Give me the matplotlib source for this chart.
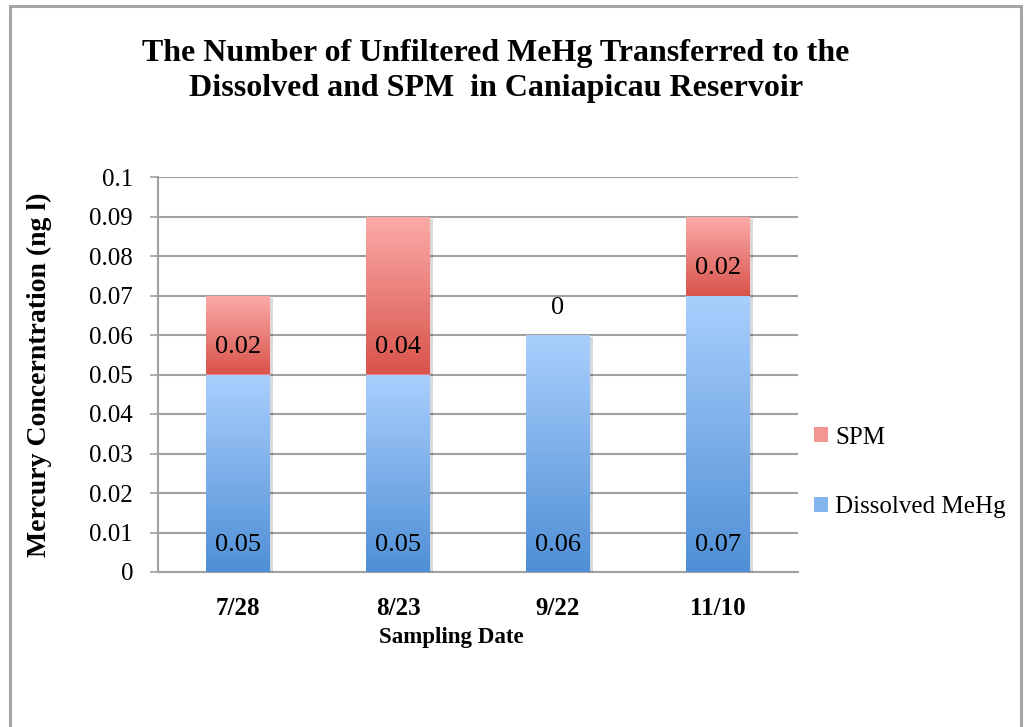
import numpy as np
import matplotlib
matplotlib.use("Agg")
import matplotlib.pyplot as plt
from matplotlib.colors import LinearSegmentedColormap
from matplotlib.patches import Rectangle, Patch
import matplotlib.patheffects as pe

plt.rcParams['font.family'] = ['Liberation Serif', 'DejaVu Serif']

dates = ['7/28', '8/23', '9/22', '11/10']
dissolved = [0.05, 0.05, 0.06, 0.07]
spm = [0.02, 0.04, 0.0, 0.02]
dissolved_labels = ['0.05', '0.05', '0.06', '0.07']
spm_labels = ['0.02', '0.04', '0', '0.02']

red_cmap = LinearSegmentedColormap.from_list('red', ['#d9534b', '#fbaba9'])
blue_cmap = LinearSegmentedColormap.from_list('blue', ['#4f8fd6', '#aacffd'])

fig = plt.figure(figsize=(10.28, 7.27), dpi=100)
ax = fig.add_axes([158 / 1028, 155 / 727, 640 / 1028, 395 / 727])

# chart frame
fig.patches.append(Rectangle((10 / 1028, -0.05), 1011 / 1028, 1 - 6 / 727 + 0.05,
                             transform=fig.transFigure, fill=False,
                             edgecolor='#a6a6a6', lw=2.2, zorder=0))

x = np.arange(len(dates))
shadow = [pe.SimplePatchShadow(offset=(2, -1.5), alpha=0.18), pe.Normal()]
b1 = ax.bar(x, dissolved, width=0.4, color='#7fb1ea', zorder=3, path_effects=shadow)
b2 = ax.bar(x, spm, width=0.4, bottom=dissolved, color='#ee8480', zorder=3, path_effects=shadow)

grad = np.linspace(0, 1, 256).reshape(-1, 1)
for bars, cmap in [(b1, blue_cmap), (b2, red_cmap)]:
    for p in bars:
        if p.get_height() <= 0:
            continue
        x0, y0 = p.get_x(), p.get_y()
        im = ax.imshow(grad, cmap=cmap, origin='lower', aspect='auto',
                       extent=[x0, x0 + p.get_width(), y0, y0 + p.get_height()],
                       zorder=4)
        im.set_clip_path(p)

# labels sit near the base of each segment
for i in range(len(dates)):
    ax.annotate(dissolved_labels[i], (x[i], 0), xytext=(0, 19.5), textcoords='offset points',
                ha='center', va='center', fontsize=19, zorder=6)
    ax.annotate(spm_labels[i], (x[i], dissolved[i]), xytext=(0, 19.5), textcoords='offset points',
                ha='center', va='center', fontsize=19, zorder=6)

ax.set_xlim(-0.5, len(dates) - 0.5)
ax.set_ylim(0, 0.1)
ax.set_yticks(np.arange(0, 0.101, 0.01))
ax.set_yticklabels(['0', '0.01', '0.02', '0.03', '0.04', '0.05', '0.06', '0.07', '0.08', '0.09', '0.1'])
ax.set_xticks(x)
ax.set_xticklabels(dates, fontweight='bold')
ax.tick_params(axis='y', labelsize=18, length=6, color='#a0a0a0', width=1.2, pad=12)
ax.tick_params(axis='x', labelsize=18, length=0, pad=18)
ax.yaxis.grid(True, color='#a0a0a0', lw=1.5, zorder=1)
ax.set_axisbelow(True)
for s in ['top', 'right']:
    ax.spines[s].set_visible(False)
for s in ['left', 'bottom']:
    ax.spines[s].set_color('#a0a0a0')
    ax.spines[s].set_linewidth(1.5)

ax.set_ylabel('Mercury Concerntration (ng l)', fontsize=20, fontweight='bold')
ax.yaxis.set_label_coords(-0.165, 0.5)
ax.set_xlabel('Sampling Date', fontsize=16.5, fontweight='bold')
ax.xaxis.set_label_coords(0.458, -0.14)

fig.text(496 / 1028, 1 - 71 / 727,
         'The Number of Unfiltered MeHg Transferred to the\nDissolved and SPM  in Caniapicau Reservoir',
         ha='center', va='center', fontsize=23, fontweight='bold', linespacing=1.3)

handles = [Patch(facecolor='#f39590', edgecolor='none'), Patch(facecolor='#84b5ee', edgecolor='none')]
fig.legend(handles, ['SPM', 'Dissolved MeHg'], loc='center left', bbox_to_anchor=(0.77, 0.35),
           frameon=False, fontsize=18, handlelength=0.55, handleheight=0.55,
           handletextpad=0.3, labelspacing=1.9)

fig.savefig('out.png', dpi=100)
